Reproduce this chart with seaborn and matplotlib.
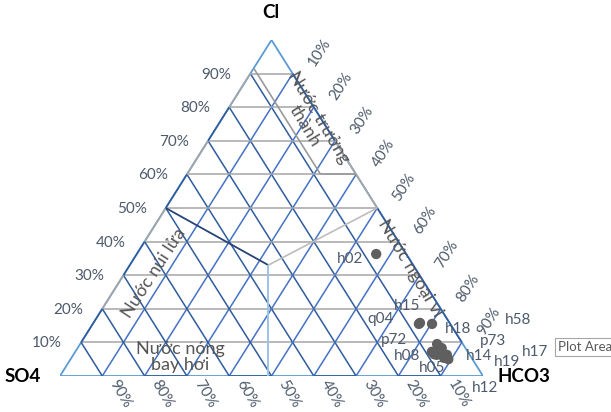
import matplotlib
matplotlib.use("Agg")
import matplotlib.pyplot as plt
import pandas as pd
import seaborn as sns

# ---- sample composition (percent of Cl + SO4 + HCO3) ----
samples = ["h02", "q04", "h15", "h18", "p72", "h08", "h05",
           "p73", "h14", "h19", "h17", "h58", "h12"]
cl   = [36.3, 15.5, 15.8, 15.5, 9.5, 6.5, 6.3, 8.3, 6.3, 5.0, 7.2, 7.7, 5.4]
so4  = [7.1, 7.4, 7.0, 4.3, 6.1, 8.3, 7.8, 5.6, 5.4, 5.7, 8.5, 6.5, 6.5]
hco3 = [56.6, 77.1, 77.2, 80.2, 84.4, 85.2, 85.9, 86.1, 88.3, 89.3, 84.3, 85.8, 88.1]

ticks = [10, 20, 30, 40, 50, 60, 70, 80, 90]
tick_labels = [f"{t}%" for t in ticks]

# placement of the sample labels (pixels from the marker)
label_offsets = {
    "h02": (-26, -5), "q04": (-38, 5), "h15": (-13, 17), "h18": (26, -5),
    "p72": (-43, 4), "h08": (-27, -2), "h05": (-5, -13), "p73": (51, 7),
    "h14": (32, -1), "h19": (59, -3), "h17": (103, 0), "h58": (79, 30),
    "h12": (41, -30),
}

W, H = 611, 412
BLUE = "#4472C4"
DARK = "#2F5C9E"
LIGHT = "#5B9BD5"
GRAY = "#A5A5A5"
NAVY = "#264478"
TXT = "#4D5A6B"

sns.set_theme(style="white")
plt.rcParams["font.family"] = ["Lato", "DejaVu Sans"]


def tern(c, s, h):
    """Cl / SO4 / HCO3 fractions -> plane coordinates (SO4 left, HCO3 right, Cl top)."""
    return h + c / 2.0, c


def fpx(x, y):
    return x / W, 1 - y / H


fig = plt.figure(figsize=(W / 100, H / 100), dpi=100)
ax = fig.add_axes([60 / W, (H - 376) / H, 423 / W, 336 / H])


def seg(p, q, color, lw=1.1, z=2):
    ax.plot([p[0], q[0]], [p[1], q[1]], color=color, lw=lw, zorder=z,
            solid_capstyle="butt")


# outer frame
seg(tern(0, 1, 0), tern(0, 0, 1), LIGHT, 1.3)
seg(tern(0, 1, 0), tern(1, 0, 0), LIGHT, 1.3)
seg(tern(0, 0, 1), tern(1, 0, 0), LIGHT, 1.3)

# grid: constant Cl (grey), constant SO4 and constant HCO3 (blue)
for t in ticks:
    f = t / 100
    seg(tern(f, 1 - f, 0), tern(f, 0, 1 - f), GRAY)
    seg(tern(0, f, 1 - f), tern(1 - f, f, 0), DARK)
    seg(tern(0, 1 - f, f), tern(1 - f, 0, f), BLUE)

# edge segments that belong to the zig-zag grid series
for a in [0.1, 0.3, 0.5, 0.7]:
    seg(tern(a, 1 - a, 0), tern(a + 0.1, 0.9 - a, 0), DARK, 1.2, 3)
for a in [0.2, 0.4, 0.6, 0.8]:
    seg(tern(a, 1 - a, 0), tern(a + 0.1, 0.9 - a, 0), GRAY, 1.2, 3)
    seg(tern(0, 1 - a, a), tern(0, 0.9 - a, a + 0.1), DARK, 1.2, 3)
seg(tern(0.1, 0, 0.9), tern(0.5, 0, 0.5), DARK, 1.2, 3)
seg(tern(0.7, 0, 0.3), tern(0.9, 0, 0.1), DARK, 1.2, 3)
seg(tern(0.5, 0, 0.5), tern(0.7, 0, 0.3), GRAY, 1.2, 3)

# field boundaries
junction = (0.33, 0.3425, 0.3275)
mature = [(0.916, 0.084, 0.0), (0.60, 0.084, 0.316), (0.60, 0.0, 0.40)]
for p, q in zip(mature[:-1], mature[1:]):
    seg(tern(*p), tern(*q), "#9A9A9A", 1.2, 4)
seg(tern(0.5, 0.5, 0), tern(*junction), NAVY, 1.3, 4)
seg(tern(*junction), tern(0.5, 0, 0.5), "#BDBDBD", 1.2, 4)
seg(tern(*junction), tern(0, 1 - junction[2] - junction[0] / 2, junction[2] + junction[0] / 2), "#9DC3E6", 1.4, 4)

# axis percentages
for t, lab in zip(ticks, tick_labels):
    f = t / 100
    ax.annotate(lab, tern(f, 1 - f, 0), xytext=(-34, -1), textcoords="offset pixels",
                ha="center", va="center", fontsize=11, color=TXT, annotation_clip=False)
    ax.annotate(lab, tern(1 - f, 0, f), xytext=(27, 21), textcoords="offset pixels",
                ha="center", va="center", rotation=57, fontsize=11, color=TXT,
                annotation_clip=False)
    ax.annotate(lab, tern(0, f, 1 - f), xytext=(18, -18), textcoords="offset pixels",
                ha="center", va="center", rotation=-60, fontsize=11, color=TXT,
                annotation_clip=False)

# corner names
for name, (x, y) in {"Cl": (271, 13), "SO4": (23, 377), "HCO3": (524, 377)}.items():
    fig.text(*fpx(x, y), name, ha="center", va="center", fontsize=13.5,
             fontweight="bold", color="black")

# field names
RTXT = "#555555"
fig.text(*fpx(311.5, 122), "Nước trưởng\nthành", ha="center", va="center",
         rotation=-59, fontsize=13, color=RTXT, linespacing=1.0, multialignment="center")
fig.text(*fpx(154, 273), "Nước núi lửa", ha="center", va="center",
         rotation=57, fontsize=13, color=RTXT)
fig.text(*fpx(180, 357), "Nước nóng\nbay hơi", ha="center", va="center",
         fontsize=13, color=RTXT, linespacing=1.0, multialignment="center")
fig.text(*fpx(410, 268), "Nước ngoại vi", ha="center", va="center",
         rotation=-59, fontsize=13, color=RTXT)

# samples
df = pd.DataFrame({"sample": samples, "Cl": cl, "SO4": so4, "HCO3": hco3})
xy = [tern(c / 100, s / 100, h / 100) for c, s, h in zip(df.Cl, df.SO4, df.HCO3)]
df["x"] = [p[0] for p in xy]
df["y"] = [p[1] for p in xy]
sns.scatterplot(data=df, x="x", y="y", ax=ax, s=55, color="#5F5F5F",
                edgecolor="none", zorder=6, legend=False)
ax.set_xlim(0, 1)
ax.set_ylim(0, 1)
ax.axis("off")
for _, r in df.iterrows():
    ax.annotate(r["sample"], (r.x, r.y), xytext=label_offsets[r["sample"]],
                textcoords="offset pixels", ha="center", va="center",
                fontsize=11, color=TXT, zorder=7, annotation_clip=False)

# hover tip of the chart area
fig.text(*fpx(558, 347), "Plot Area", ha="left", va="center", fontsize=9.5,
         color="#595959",
         bbox=dict(boxstyle="square,pad=0.25", facecolor="white", edgecolor="#A6A6A6", lw=0.8))

fig.savefig("out.png", dpi=100)
